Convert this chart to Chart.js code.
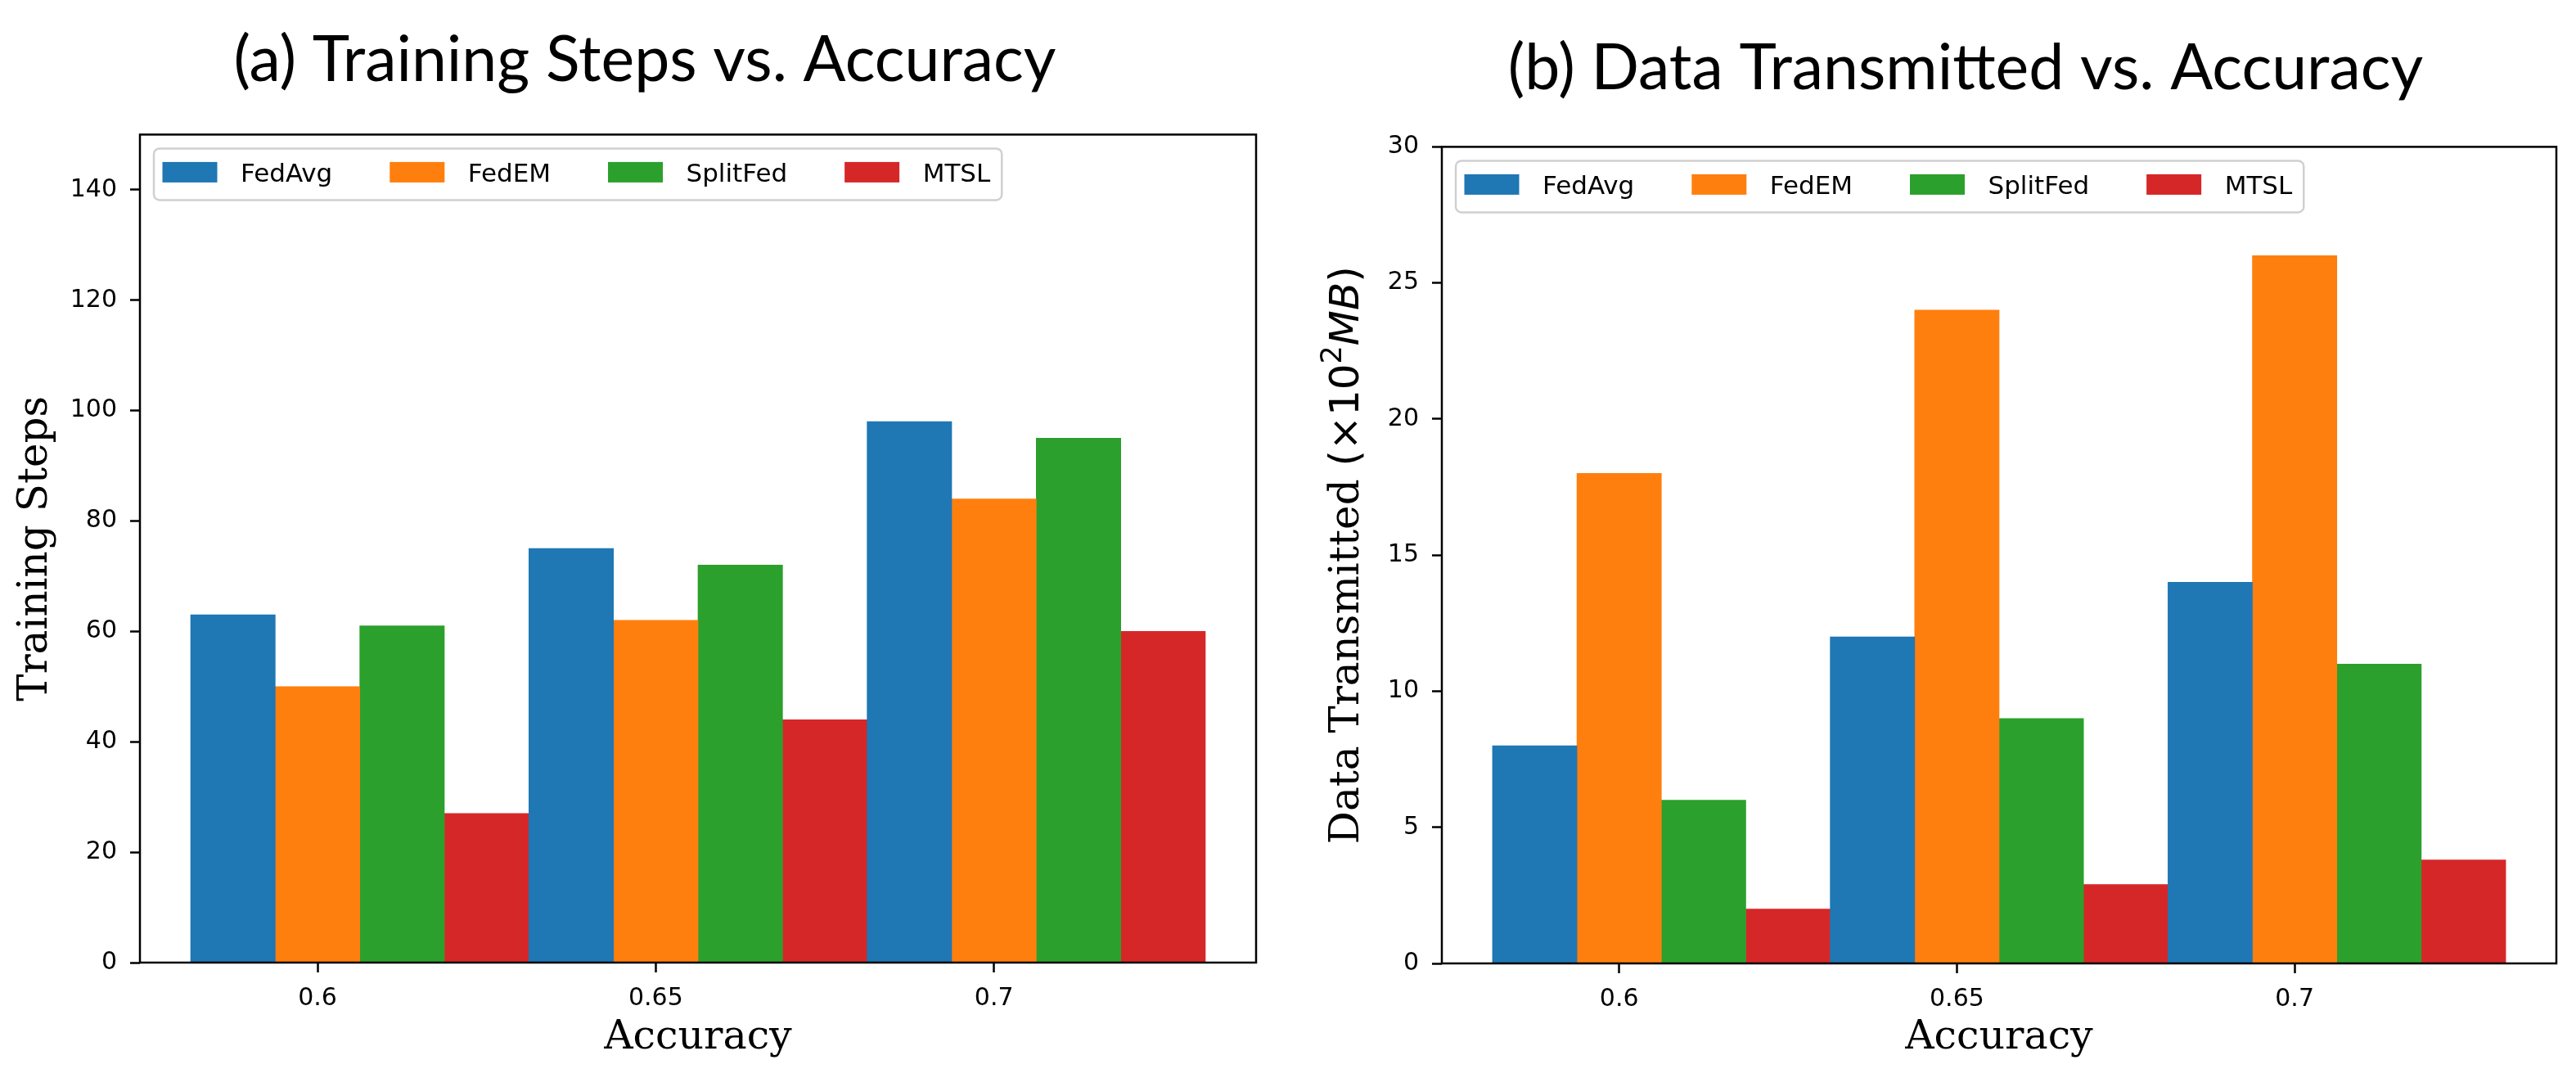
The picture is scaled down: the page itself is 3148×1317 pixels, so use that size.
<!DOCTYPE html>
<html>
<head>
<meta charset="utf-8">
<script src="https://cdn.jsdelivr.net/npm/chart.js@4.4.1/dist/chart.umd.min.js"></script>
<style>
  html, body { margin: 0; padding: 0; background: #fff; }
  body { width: 3148px; height: 1317px; position: relative; overflow: hidden; }
  canvas { position: absolute; top: 0; }
  #left { left: 0; }
  #right { left: 1574px; }
</style>
</head>
<body>
<canvas id="left" width="1574" height="1317"></canvas>
<canvas id="right" width="1574" height="1317"></canvas>
<script>
const accuracy = ['0.6', '0.65', '0.7'];
const methods = ['FedAvg', 'FedEM', 'SplitFed', 'MTSL'];
const colors = ['#1f77b4', '#ff7f0e', '#2ca02c', '#d62728'];

// (a) training steps
const stepsFedAvg = [63, 75, 98];
const stepsFedEM = [50, 62, 84];
const stepsSplitFed = [61, 72, 95];
const stepsMTSL = [27, 44, 60];

// (b) data transmitted, in 10^2 MB
const dataFedAvg = [8, 12, 14];
const dataFedEM = [18, 24, 26];
const dataSplitFed = [6, 9, 11];
const dataMTSL = [2, 2.9, 3.8];

const barW = 0.25;
const tickFont = { family: 'DejaVu Sans', size: 30 };

// matplotlib style: bar k of group i sits at i + k*barW
const makeSets = (series) =>
  series.map((vals, k) => ({
    label: methods[k],
    data: vals.map((v, i) => ({ x: i + k * barW, y: v })),
    backgroundColor: colors[k],
    borderWidth: 0,
    grouped: false,
    categoryPercentage: 1,
    barPercentage: 1,
  }));

const framePlugin = {
  id: 'frame',
  afterDatasetsDraw(chart) {
    const { ctx, chartArea: a } = chart;
    ctx.save();
    ctx.strokeStyle = '#000';
    ctx.lineWidth = 2.5;
    ctx.strokeRect(a.left, a.top, a.right - a.left, a.bottom - a.top);
    ctx.restore();
  },
};

const legendPlugin = {
  id: 'boxLegend',
  afterDraw(chart) {
    const { ctx, chartArea: a } = chart;
    ctx.save();
    ctx.font = '31px "DejaVu Sans"';
    const sets = chart.data.datasets;
    const widths = sets.map((ds) => ctx.measureText(ds.label).width);
    const x0 = a.left + 17;
    const y0 = a.top + 17;
    let w = 10.5 + 14;
    widths.forEach((tw, i) => {
      w += 95.5 + tw + (i < widths.length - 1 ? 70 : 0);
    });
    ctx.beginPath();
    ctx.roundRect(x0, y0, w, 63, 7);
    ctx.fillStyle = 'rgba(255,255,255,0.8)';
    ctx.fill();
    ctx.strokeStyle = '#d0d0d0';
    ctx.lineWidth = 2.5;
    ctx.stroke();
    let x = x0 + 10.5;
    ctx.textBaseline = 'alphabetic';
    sets.forEach((ds, i) => {
      ctx.fillStyle = ds.backgroundColor;
      ctx.fillRect(x, a.top + 33.5, 67, 25);
      ctx.fillStyle = '#000';
      ctx.fillText(ds.label, x + 95.5, a.top + 58);
      x += 95.5 + widths[i] + 70;
    });
    ctx.restore();
  },
};

// rotated y label drawn left of the axis, parts allow mixed fonts
const yLabelPlugin = {
  id: 'yLabel',
  afterDraw(chart, args, opts) {
    const { ctx, chartArea: a } = chart;
    const parts = opts.parts;
    ctx.save();
    let total = 0;
    parts.forEach((p) => {
      ctx.font = p.f;
      p.w = ctx.measureText(p.t).width;
      total += p.w;
    });
    ctx.translate(a.left - opts.gap, (a.top + a.bottom) / 2);
    ctx.rotate(-Math.PI / 2);
    ctx.fillStyle = '#000';
    ctx.textBaseline = 'alphabetic';
    let x = -total / 2;
    parts.forEach((p) => {
      ctx.font = p.f;
      ctx.fillText(p.t, x, p.dy || 0);
      x += p.w;
    });
    ctx.restore();
  },
};

const makeChart = (id, cfg) =>
  new Chart(document.getElementById(id), {
    type: 'bar',
    data: { datasets: makeSets(cfg.series) },
    plugins: [framePlugin, legendPlugin, yLabelPlugin],
    options: {
      responsive: false,
      devicePixelRatio: 1,
      animation: false,
      layout: { padding: cfg.padding },
      plugins: {
        legend: { display: false },
        tooltip: { enabled: false },
        title: {
          display: true,
          text: cfg.title,
          font: { family: 'Lato', size: 77, weight: 'normal' },
          color: '#000',
          padding: cfg.titlePad,
        },
        yLabel: { parts: cfg.yLabel, gap: cfg.yLabelGap },
      },
      scales: {
        x: {
          type: 'linear',
          offset: false,
          min: -barW / 2 - 0.15,
          max: accuracy.length - barW / 2 + 0.15,
          afterBuildTicks: (s) => {
            s.ticks = accuracy.map((_, i) => ({ value: i + barW }));
          },
          ticks: {
            callback: (v, i) => accuracy[i],
            font: tickFont,
            color: '#000',
            padding: 14,
          },
          grid: {
            offset: false,
            drawOnChartArea: false,
            tickLength: 12,
            tickWidth: 2.5,
            tickColor: '#000',
          },
          border: { display: false },
          title: {
            display: true,
            text: 'Accuracy',
            font: { family: 'DejaVu Serif', size: 49 },
            color: '#000',
            padding: { top: 0, bottom: 19 },
          },
          afterFit: (s) => {
            s.height = cfg.xHeight;
          },
        },
        y: {
          min: 0,
          max: cfg.yMax,
          ticks: {
            stepSize: cfg.yStep,
            includeBounds: false,
            font: tickFont,
            color: '#000',
            padding: 16,
          },
          grid: {
            drawOnChartArea: false,
            tickLength: 12,
            tickWidth: 2.5,
            tickColor: '#000',
          },
          border: { display: false },
          afterFit: (s) => {
            s.width = cfg.yWidth;
          },
        },
      },
    },
  });

makeChart('left', {
  series: [stepsFedAvg, stepsFedEM, stepsSplitFed, stepsMTSL],
  title: '(a) Training Steps vs. Accuracy',
  titlePad: { top: 28, bottom: 44 },
  padding: { left: 41, right: 39, top: 0, bottom: 0 },
  yWidth: 130,
  xHeight: 141,
  yMax: 150,
  yStep: 20,
  yLabel: [{ t: 'Training Steps', f: '50px "DejaVu Serif"' }],
  yLabelGap: 114,
});

makeChart('right', {
  series: [dataFedAvg, dataFedEM, dataSplitFed, dataMTSL],
  title: '(b) Data Transmitted vs. Accuracy',
  titlePad: { top: 38, bottom: 49 },
  padding: { left: 106, right: 24, top: 0, bottom: 0 },
  yWidth: 82,
  xHeight: 140,
  yMax: 30,
  yStep: 5,
  yLabel: [
    { t: 'Data Transmitted ', f: '50px "DejaVu Serif"' },
    { t: '(×10', f: '50px "DejaVu Sans"' },
    { t: '2', f: '35px "DejaVu Sans"', dy: -21 },
    { t: 'MB', f: 'italic 50px "DejaVu Sans"' },
    { t: ')', f: '50px "DejaVu Sans"' },
  ],
  yLabelGap: 102,
});
</script>
</body>
</html>
